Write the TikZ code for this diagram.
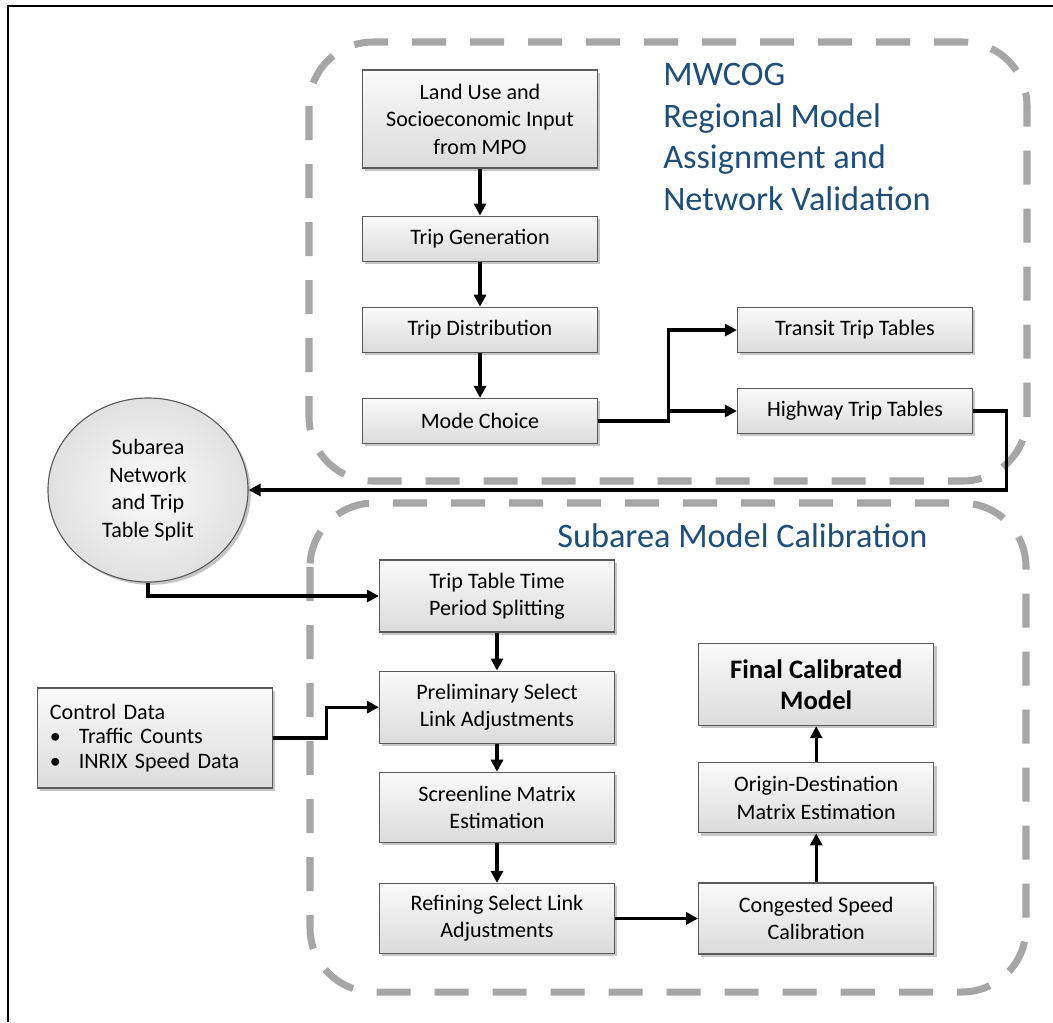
\documentclass[tikz,border=0pt]{standalone}
\usepackage{fontspec}
\setmainfont{Carlito}
\usepackage{tikz}
\usetikzlibrary{arrows.meta,positioning,shapes.geometric,shadows}
\definecolor{mwblue}{HTML}{1F4E79}
\definecolor{boxedge}{HTML}{5A5A5A}
\definecolor{zonegray}{HTML}{A6A6A6}

\begin{document}
\begin{tikzpicture}[
  x=0.025cm, y=-0.025cm,
  font=\fontsize{15.7}{19.5}\selectfont,
  stage/.style={draw=boxedge, line width=0.8pt, top color=gray!4, bottom color=gray!28,
    drop shadow={opacity=0.45, shadow xshift=2pt, shadow yshift=-2pt},
    minimum width=5.875cm, minimum height=1.125cm, align=center, inner sep=2pt},
  hub/.style={ellipse, draw=boxedge, line width=0.8pt, inner color=gray!3, outer color=gray!24,
    drop shadow={opacity=0.45, shadow xshift=2pt, shadow yshift=-2pt},
    minimum width=5cm, minimum height=4.6cm, align=center, inner sep=0pt},
  arr/.style={-{Triangle[length=3mm, width=3mm]}, line width=2.2pt},
  zone/.style={draw=zonegray, line width=5pt, dash pattern=on 0.85cm off 0.6cm, rounded corners=1.6cm},
  zonetitle/.style={text=mwblue, font=\fontsize{24.4}{29.5}\selectfont, inner sep=0pt, align=left},
]
\useasboundingbox (0,0) rectangle (1053,1022);
\draw[line width=1.5pt] (8,1022) -- (8,6) -- (1053,6);
\draw[zone] (309,42) rectangle (1027,481);
\draw[zone] (310,503) rectangle (1026,992);

\node[zonetitle, anchor=north west] (tt) at (663,63) {MWCOG\\Regional Model\\Assignment and\\Network Validation};
\node[zonetitle, anchor=base west] (st) at (557,547) {Subarea Model Calibration};

\node[stage, minimum height=2.45cm] (t1) at (480,119) {Land Use and\\Socioeconomic Input\\from MPO};
\node[stage, below=1.175cm of t1] (t2) {Trip Generation};
\node[stage, below=1.125cm of t2] (t3) {Trip Distribution};
\node[stage, below=1.125cm of t3] (t4) {Mode Choice};
\node[stage] (tr) at (855,330) {Transit Trip Tables};
\node[stage] (hw) at (855,411) {Highway Trip Tables};

\node[hub] (sa) at (148,490) {Subarea\\Network\\and Trip\\Table Split};
\node[stage, minimum height=2.5cm, align=left, text width=5.25cm,
  font=\fontsize{15.7}{17.5}\selectfont] (cd) at (155,738)
  {Control Data\\\makebox[0.72cm][l]{\textbullet}Traffic Counts\\\makebox[0.72cm][l]{\textbullet}INRIX Speed Data};

\node[stage, minimum height=1.8cm] (s1) at (497,596) {Trip Table Time\\Period Splitting};
\node[stage, minimum height=1.8cm, below=0.95cm of s1] (s2) {Preliminary Select\\Link Adjustments};
\node[stage, minimum height=1.75cm, below=0.7cm of s2] (s3) {Screenline Matrix\\Estimation};
\node[stage, minimum height=1.75cm, below=1.0cm of s3] (s4) {Refining Select Link\\Adjustments};
\node[stage, minimum height=1.775cm, right=2.075cm of s4] (f1) {Congested Speed\\Calibration};
\node[stage, minimum height=1.75cm, above=1.225cm of f1] (f2) {Origin-Destination\\Matrix Estimation};
\node[stage, minimum height=2.05cm, above=0.9cm of f2,
  font=\bfseries\fontsize{19}{22.5}\selectfont] (f3) {Final Calibrated\\Model};

\draw[arr] (t1) -- (t2);
\draw[arr] (t2) -- (t3);
\draw[arr] (t3) -- (t4);
\draw[arr] (t4.east) -- ++(70,0) coordinate (sp) |- (tr.west);
\draw[arr] (sp) |- (hw.west);
\draw[arr] (hw.east) -- ++(33,0) |- (sa.east);
\draw[arr] (sa.south) |- (s1.west);
\draw[arr] (cd.east) -- ++(53,0) |- (s2.west);
\draw[arr] (s1) -- (s2);
\draw[arr] (s2) -- (s3);
\draw[arr] (s3) -- (s4);
\draw[arr] (s4) -- (f1);
\draw[arr] (f1) -- (f2);
\draw[arr] (f2) -- (f3);
\end{tikzpicture}
\end{document}
